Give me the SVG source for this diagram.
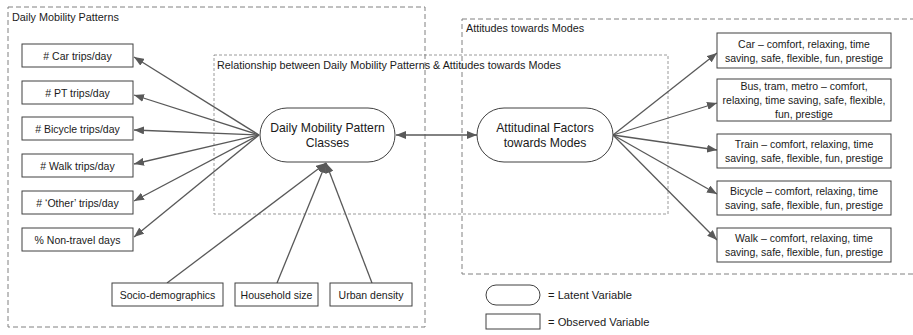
<svg xmlns="http://www.w3.org/2000/svg" width="913" height="335" viewBox="0 0 913 335">
<defs>
<style>
text{font-family:"Liberation Sans",Arial,sans-serif;fill:#1a1a1a}
.box{fill:#fff;stroke:#404040;stroke-width:1}
.pill{fill:#fff;stroke:#404040;stroke-width:1}
.t{font-size:10.5px;text-anchor:middle}
.tb{font-size:12.2px;text-anchor:middle}
.lbl{font-size:10.8px}
.leg{font-size:11.2px}
.grp{fill:none;stroke:#808080;stroke-width:1;stroke-dasharray:5,3}
.rel{fill:none;stroke:#808080;stroke-width:0.8;stroke-dasharray:3,2}
.arr{fill:none;stroke:#595959;stroke-width:1.3;marker-end:url(#ah)}
</style>
<marker id="ah" markerUnits="userSpaceOnUse" markerWidth="11" markerHeight="8" refX="10" refY="4" orient="auto-start-reverse">
<path d="M0,0 L10,4 L0,8 z" fill="#595959"/>
</marker>
</defs>
<rect width="913" height="335" fill="#fff"/>
<g id="groups">
<rect class="grp" x="8" y="7" width="417" height="320"/>
<text class="lbl" x="12" y="21">Daily Mobility Patterns</text>
<rect class="grp" x="462" y="19" width="454" height="255"/>
<text class="lbl" x="466" y="32">Attitudes towards Modes</text>
<rect class="rel" x="214" y="55" width="454" height="159"/>
<text class="lbl" x="217" y="69">Relationship between Daily Mobility Patterns &amp; Attitudes towards Modes</text>
</g>
<g id="connectors">
<line class="arr" x1="259" y1="135" x2="134" y2="57"/>
<line class="arr" x1="259" y1="135" x2="134" y2="95"/>
<line class="arr" x1="259" y1="135" x2="134" y2="130"/>
<line class="arr" x1="259" y1="135" x2="134" y2="164"/>
<line class="arr" x1="259" y1="135" x2="134" y2="201"/>
<line class="arr" x1="259" y1="135" x2="134" y2="237"/>
<line class="arr" x1="167" y1="283" x2="326" y2="163"/>
<line class="arr" x1="277" y1="283" x2="326" y2="163"/>
<line class="arr" x1="372" y1="283" x2="326" y2="163"/>
<line class="arr" x1="396" y1="135" x2="477" y2="135" style="marker-start:url(#ah)"/>
<line class="arr" x1="613" y1="135" x2="717" y2="53"/>
<line class="arr" x1="613" y1="135" x2="717" y2="103"/>
<line class="arr" x1="613" y1="135" x2="717" y2="150"/>
<line class="arr" x1="613" y1="135" x2="717" y2="194"/>
<line class="arr" x1="613" y1="135" x2="717" y2="240"/>
</g>
<g id="car-trips"><rect class="box" x="22" y="44" width="111" height="23"/><text class="t" x="77.5" y="59.5"># Car trips/day</text></g>
<g id="pt-trips"><rect class="box" x="22" y="81" width="111" height="23"/><text class="t" x="77.5" y="96.5"># PT trips/day</text></g>
<g id="bicycle-trips"><rect class="box" x="22" y="117" width="111" height="23"/><text class="t" x="77.5" y="132.5"># Bicycle trips/day</text></g>
<g id="walk-trips"><rect class="box" x="22" y="154" width="111" height="23"/><text class="t" x="77.5" y="169.5"># Walk trips/day</text></g>
<g id="other-trips"><rect class="box" x="22" y="191" width="111" height="23"/><text class="t" x="77.5" y="206.5"># ‘Other’ trips/day</text></g>
<g id="non-travel"><rect class="box" x="22" y="228" width="111" height="23"/><text class="t" x="77.5" y="243.5">% Non-travel days</text></g>
<g id="socio"><rect class="box" x="112" y="283" width="111" height="23"/><text class="t" x="167.5" y="298.5">Socio-demographics</text></g>
<g id="household"><rect class="box" x="235" y="283" width="83" height="23"/><text class="t" x="276.5" y="298.5">Household size</text></g>
<g id="urban"><rect class="box" x="330" y="283" width="82" height="23"/><text class="t" x="371" y="298.5">Urban density</text></g>
<g id="dmp-classes"><rect class="pill" x="260" y="108" width="135" height="54" rx="27" ry="27"/><text class="tb" x="327.5" y="132">Daily Mobility Pattern</text><text class="tb" x="327.5" y="147">Classes</text></g>
<g id="attitudinal"><rect class="pill" x="477" y="108" width="136" height="54" rx="27" ry="27"/><text class="tb" x="545" y="132">Attitudinal Factors</text><text class="tb" x="545" y="147">towards Modes</text></g>
<g id="car-att"><rect class="box" x="717" y="33" width="174" height="35"/><text class="t" x="804" y="47.5">Car – comfort, relaxing, time</text><text class="t" x="804" y="61.5">saving, safe, flexible, fun, prestige</text></g>
<g id="bus-att"><rect class="box" x="717" y="79" width="174" height="42"/><text class="t" x="804" y="89.5">Bus, tram, metro – comfort,</text><text class="t" x="804" y="103.5">relaxing, time saving, safe, flexible,</text><text class="t" x="804" y="117.5">fun, prestige</text></g>
<g id="train-att"><rect class="box" x="717" y="134" width="174" height="34"/><text class="t" x="804" y="148">Train – comfort, relaxing, time</text><text class="t" x="804" y="162">saving, safe, flexible, fun, prestige</text></g>
<g id="bicycle-att"><rect class="box" x="717" y="181" width="174" height="34"/><text class="t" x="804" y="195">Bicycle – comfort, relaxing, time</text><text class="t" x="804" y="209">saving, safe, flexible, fun, prestige</text></g>
<g id="walk-att"><rect class="box" x="717" y="228" width="174" height="34"/><text class="t" x="804" y="242">Walk – comfort, relaxing, time</text><text class="t" x="804" y="256">saving, safe, flexible, fun, prestige</text></g>
<g id="legend">
<rect class="pill" x="486" y="285" width="54" height="20" rx="10" ry="10"/>
<text class="leg" x="548" y="299">= Latent Variable</text>
<rect class="box" x="486" y="314" width="54" height="15"/>
<text class="leg" x="548" y="325.5">= Observed Variable</text>
</g>
</svg>
